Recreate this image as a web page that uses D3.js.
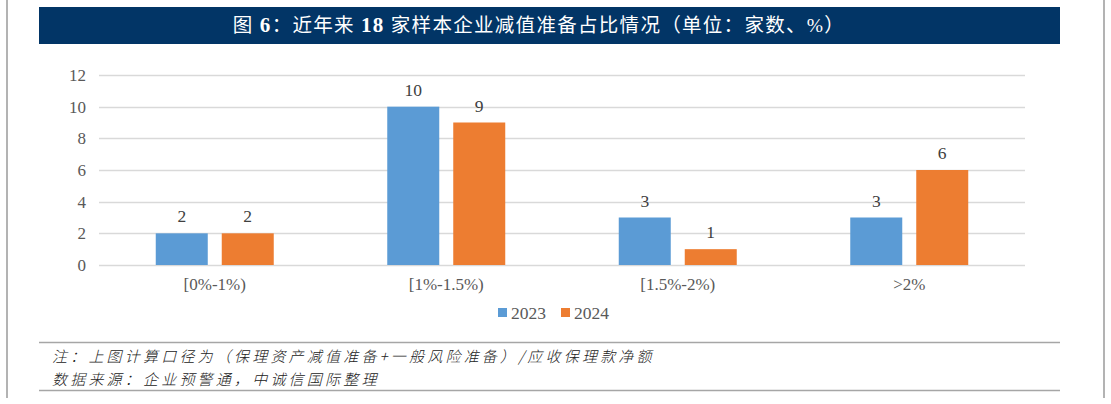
<!DOCTYPE html>
<html>
<head>
<meta charset="utf-8">
<script src="https://cdn.jsdelivr.net/npm/d3@7"></script>
<style>
    html, body { margin: 0; padding: 0; background: #fff; }
    svg { display: block; }
</style>
</head>
<body>
<svg id="chart" width="1111" height="404"></svg>
<script>
// chart data
const categories = ["[0%-1%)", "[1%-1.5%)", "[1.5%-2%)", ">2%"];
const seriesNames = ["2023", "2024"];
const values2023 = [2, 10, 3, 3];
const values2024 = [2, 9, 1, 6];
const yTicks = [0, 2, 4, 6, 8, 10, 12];
const seriesColors = ["#5B9BD5", "#ED7D31"];
const noteLines = [
    "注：上图计算口径为（保理资产减值准备+一般风险准备）/应收保理款净额",
    "数据来源：企业预警通，中诚信国际整理"
];

const svg = d3.select("#chart");
const serif = "'Liberation Serif', 'Times New Roman', 'Noto Sans CJK SC', serif";
const cjk = "'Liberation Serif', 'Noto Sans CJK SC', sans-serif";

// outer frame lines
svg.append("line").attr("x1", 7).attr("x2", 7).attr("y1", 0).attr("y2", 398)
    .attr("stroke", "#9a9a9a").attr("stroke-width", 1.5);
svg.append("line").attr("x1", 1104).attr("x2", 1104).attr("y1", 0).attr("y2", 398)
    .attr("stroke", "#9a9a9a").attr("stroke-width", 1.5);

// title bar
svg.append("rect").attr("x", 39).attr("y", 7).attr("width", 1021).attr("height", 37).attr("fill", "#023566");
let title = svg.append("text")
    .attr("x", 539).attr("y", 32)
    .attr("text-anchor", "middle")
    .attr("fill", "#fff")
    .style("font-family", cjk)
    .style("font-size", "19.5px")
    .style("letter-spacing", "1.3px");
title.append("tspan").text("图 ");
title.append("tspan").style("font-weight", "bold").style("font-size", "21px").text("6");
title.append("tspan").text("：近年来 ");
title.append("tspan").style("font-weight", "bold").style("font-size", "21px").text("18");
title.append("tspan").text(" 家样本企业减值准备占比情况（单位：家数、%）");

// scales
const x0 = d3.scaleBand().domain(categories).range([99, 1025]).paddingInner(0).paddingOuter(0);
const x1 = d3.scaleBand().domain(seriesNames).range([0, x0.bandwidth()]).paddingInner(0.212).paddingOuter(0.86);
const y = d3.scaleLinear().domain([0, 12]).range([265, 75]);

// gridlines
svg.append("g").selectAll("line").data(yTicks).enter()
    .append("line")
    .attr("x1", 99).attr("x2", 1025)
    .attr("y1", d => Math.round(y(d)) + 0.5).attr("y2", d => Math.round(y(d)) + 0.5)
    .attr("stroke", "#D9D9D9").attr("stroke-width", 1.3);

// y axis labels
const yAxis = d3.axisLeft(y).tickValues(yTicks).tickSize(0).tickPadding(0);
const yg = svg.append("g").attr("transform", "translate(86,0)").call(yAxis).attr("font-family", null);
yg.select(".domain").remove();
yg.selectAll("text")
    .attr("fill", "#595959")
    .style("font-family", serif)
    .style("font-size", "17px");

// x axis labels
const xAxis = d3.axisBottom(x0).tickSize(0).tickPadding(0);
const xg = svg.append("g").attr("transform", "translate(0,278)").call(xAxis).attr("font-family", null);
xg.select(".domain").remove();
xg.selectAll("text")
    .attr("fill", "#595959")
    .style("font-family", serif)
    .style("font-size", "17px");

// bars
const rows = categories.map((c, i) => ({ cat: c, vals: [values2023[i], values2024[i]] }));
const groups = svg.append("g").selectAll("g").data(rows).enter()
    .append("g")
    .attr("transform", d => "translate(" + x0(d.cat) + ",0)");
seriesNames.forEach(function(s, si) {
    groups.append("rect")
        .attr("x", x1(s))
        .attr("y", d => y(d.vals[si]))
        .attr("width", x1.bandwidth())
        .attr("height", d => y(0) - y(d.vals[si]))
        .attr("fill", seriesColors[si]);
    groups.append("text")
        .attr("x", x1(s) + x1.bandwidth() / 2)
        .attr("y", d => y(d.vals[si]) - 11)
        .attr("text-anchor", "middle")
        .attr("fill", "#404040")
        .style("font-family", serif)
        .style("font-size", "17.5px")
        .text(d => d.vals[si]);
});

// legend
const legendX = [498, 561];
seriesNames.forEach(function(s, i) {
    svg.append("rect").attr("x", legendX[i]).attr("y", 308).attr("width", 9).attr("height", 9).attr("fill", seriesColors[i]);
    svg.append("text")
        .attr("x", legendX[i] + 13).attr("y", 319)
        .attr("fill", "#595959")
        .style("font-family", serif)
        .style("font-size", "17.5px")
        .text(s);
});

// notes
svg.append("line").attr("x1", 39).attr("x2", 1060).attr("y1", 342.5).attr("y2", 342.5)
    .attr("stroke", "#a6a6a6").attr("stroke-width", 1.5);
svg.append("line").attr("x1", 39).attr("x2", 1060).attr("y1", 390.5).attr("y2", 390.5)
    .attr("stroke", "#a6a6a6").attr("stroke-width", 1.5);
svg.selectAll(".note").data(noteLines).enter()
    .append("text")
    .attr("class", "note")
    .attr("x", 52)
    .attr("y", (d, i) => 362 + i * 23)
    .attr("fill", "#222")
    .style("font-family", "'Noto Sans CJK SC', sans-serif")
    .style("font-weight", 300)
    .style("font-size", "15px")
    .style("font-style", "italic")
    .style("letter-spacing", "3.2px")
    .text(d => d);
</script>
</body>
</html>
